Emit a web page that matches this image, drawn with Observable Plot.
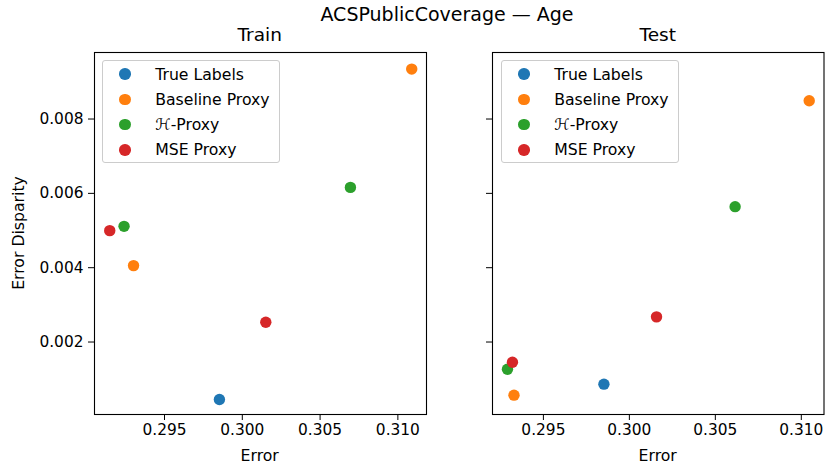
<!DOCTYPE html>
<html>
<head>
<meta charset="utf-8">
<script src="https://cdn.jsdelivr.net/npm/d3@7"></script>
<script src="https://cdn.jsdelivr.net/npm/@observablehq/plot@0.6"></script>
<style>
  html, body { margin: 0; padding: 0; background: #fff; }
  #fig { position: relative; width: 825px; height: 468px; font-family: "DejaVu Sans", sans-serif; color: #000; overflow: hidden; }
  .txt { position: absolute; white-space: nowrap; transform: translate(-50%, -50%); line-height: 1; }
  .panel { position: absolute; top: 0; }
  .legend { position: absolute; box-sizing: border-box; border: 1px solid #cccccc; border-radius: 3px; background: rgba(255,255,255,0.8); }
  .row { position: absolute; left: 0; height: 20px; display: flex; align-items: center; font-size: 15.7px; white-space: nowrap; }
  .sw { display: inline-block; width: 11.5px; height: 11.5px; border-radius: 50%; margin-left: 16.5px; }
  .lab { margin-left: 24.5px; }
</style>
</head>
<body>
<div id="fig"></div>
<script>
// ---- data ----
const title = "ACSPublicCoverage — Age";
const panelTitles = ["Train", "Test"];
const xLabel = "Error";
const yLabel = "Error Disparity";
const series = ["True Labels", "Baseline Proxy", "ℋ-Proxy", "MSE Proxy"];
const colors = ["#1f77b4", "#ff7f0e", "#2ca02c", "#d62728"];
const trainErr  = [[0.29853], [0.31089, 0.29301], [0.30695, 0.29240], [0.30151, 0.29148]];
const trainDisp = [[0.000454], [0.009344, 0.004056], [0.006161, 0.005113], [0.002532, 0.004997]];
const testErr   = [[0.29852], [0.31046, 0.29329], [0.30615, 0.29291], [0.30158, 0.29320]];
const testDisp  = [[0.000866], [0.008492, 0.000570], [0.005642, 0.001269], [0.002677, 0.001457]];
const xTicks = [0.295, 0.300, 0.305, 0.310];
const yTicks = [0.002, 0.004, 0.006, 0.008];

function rows(errs, disps) {
  const out = [];
  series.forEach((s, i) => errs[i].forEach((e, j) => out.push({series: s, error: e, disparity: disps[i][j]})));
  return out;
}

const fig = document.getElementById("fig");
const H = 468;
const yDomain = [0.00005, 0.00979];

const panels = [
  {left: 0, width: 430, mLeft: 94, mRight: 4, xDomain: [0.2905, 0.31184], data: rows(trainErr, trainDisp), yLabels: true},
  {left: 430, width: 395, mLeft: 62, mRight: 1.5, xDomain: [0.29204, 0.31132], data: rows(testErr, testDisp), yLabels: false}
];

panels.forEach((p, k) => {
  const chart = Plot.plot({
    width: p.width, height: H,
    marginLeft: p.mLeft, marginRight: p.mRight, marginTop: 52, marginBottom: 54,
    style: {fontFamily: "DejaVu Sans, sans-serif", fontSize: "15.4px", color: "#000", background: "transparent", overflow: "visible"},
    x: {domain: p.xDomain, ticks: xTicks, tickFormat: d3.format(".3f"), label: null, tickSize: 6, tickPadding: 4},
    y: {domain: yDomain, ticks: yTicks, tickFormat: p.yLabels ? d3.format(".3f") : () => "", label: null, tickSize: 6, tickPadding: 5},
    color: {domain: series, range: colors},
    marks: [
      Plot.frame({stroke: "#000", strokeWidth: 1.1}),
      Plot.dot(p.data, {x: "error", y: "disparity", fill: "series", r: 5.7, stroke: "none"})
    ]
  });
  chart.classList.add("panel");
  chart.style.left = p.left + "px";
  fig.appendChild(chart);
});

function addText(t, x, y, size, rotate) {
  const d = document.createElement("div");
  d.className = "txt";
  d.textContent = t;
  d.style.left = x + "px";
  d.style.top = y + "px";
  d.style.fontSize = size + "px";
  if (rotate) d.style.transform = "translate(-50%, -50%) rotate(-90deg)";
  fig.appendChild(d);
}

addText(title, 447, 13.5, 19);
addText(panelTitles[0], 259.7, 35, 18.5);
addText(panelTitles[1], 657.7, 35, 18.5);
addText(xLabel, 259.7, 456, 15.7);
addText(xLabel, 657.7, 456, 15.7);
addText(yLabel, 19, 233, 15.7, true);

// legends
[{x: 101.7}, {x: 500.7}].forEach(L => {
  const box = document.createElement("div");
  box.className = "legend";
  box.style.left = L.x + "px";
  box.style.top = "60px";
  box.style.width = "178px";
  box.style.height = "103px";
  series.forEach((s, i) => {
    const r = document.createElement("div");
    r.className = "row";
    r.style.top = (14 + i * 25.3 - 10 - 1) + "px";
    const sw = document.createElement("span");
    sw.className = "sw";
    sw.style.background = colors[i];
    const lb = document.createElement("span");
    lb.className = "lab";
    if (s.startsWith("ℋ")) {
      const h = document.createElement("i");
      h.textContent = "ℋ";
      lb.appendChild(h);
      lb.appendChild(document.createTextNode(s.slice(1)));
    } else lb.textContent = s;
    r.appendChild(sw);
    r.appendChild(lb);
    box.appendChild(r);
  });
  fig.appendChild(box);
});
</script>
</body>
</html>
